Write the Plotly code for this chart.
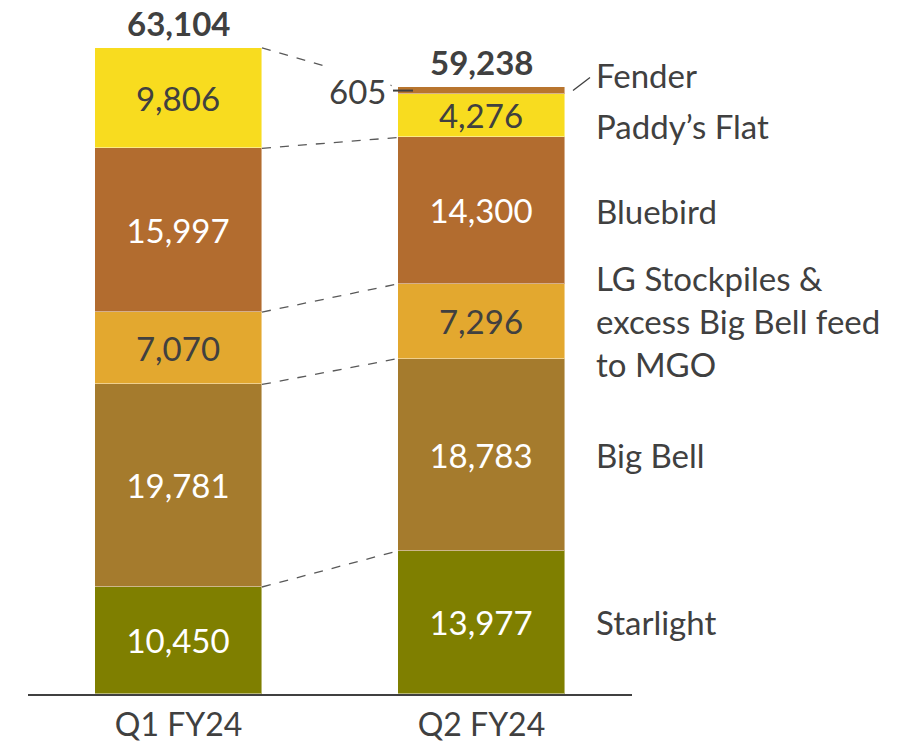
import plotly.graph_objects as go

categories = ["Q1 FY24", "Q2 FY24"]
series_names = ["Starlight", "Big Bell", "LG Stockpiles &<br>excess Big Bell feed<br>to MGO", "Bluebird", "Paddy’s Flat", "Fender"]
starlight = [10450, 13977]
big_bell = [19781, 18783]
lg_stockpiles = [7070, 7296]
bluebird = [15997, 14300]
paddys_flat = [9806, 4276]
fender = [0, 605]
totals = [63104, 59238]

series = [starlight, big_bell, lg_stockpiles, bluebird, paddys_flat, fender]
colors = ["#7F7F00", "#A57B2D", "#E3A82F", "#B26C2F", "#F8DC1F", "#B8752E"]
text_colors = ["white", "white", "#404040", "white", "#404040", "#404040"]

FONT = "Lato"
FS = 33
DARK = "#404040"

W, H = 915, 744
OFF = 0  # body margin removed via post_script
PL, PR, PT, PB = 28, 632, 8, 694
ML, MR, MT, MB = PL - OFF, W - (PR - OFF), PT - OFF, H - (PB - OFF)
XR = [-0.497, 1.497]
YR = [0, 67000]
BW = 0.551


def px2x(px):
    return XR[0] + (px - PL) / (PR - PL) * (XR[1] - XR[0])


fig = go.Figure()
xs = [0, 1]
for i, (name, vals) in enumerate(zip(series_names, series)):
    show_text = i < 5
    fig.add_trace(go.Bar(
        x=xs, y=vals, name=name, width=BW,
        marker=dict(color=colors[i], line=dict(color="rgba(255,255,255,0.45)", width=1)),
        text=[f"{v:,}" if (show_text and v > 0) else "" for v in vals],
        textposition="inside", insidetextanchor="middle", textangle=0,
        constraintext="none",
        textfont=dict(family=FONT, size=FS, color=text_colors[i]),
        hoverinfo="skip",
    ))

cum = [[0, 0]]
for vals in series:
    cum.append([cum[-1][j] + vals[j] for j in range(2)])

shapes = []
pairs = [(1, 1), (2, 2), (3, 3), (4, 4), (5, 6)]
for a, b in pairs:
    shapes.append(dict(type="line", xref="x", yref="y",
                       x0=0 + BW / 2, y0=cum[a][0], x1=1 - BW / 2, y1=cum[b][1],
                       line=dict(color="#595959", width=1.3, dash="dash"), layer="above"))

fender_mid = cum[5][1] + fender[1] / 2
shapes.append(dict(type="line", xref="x", yref="y",
                   x0=px2x(393), x1=px2x(413), y0=fender_mid, y1=fender_mid,
                   line=dict(color=DARK, width=2), layer="above"))
shapes.append(dict(type="line", xref="x", yref="y",
                   x0=px2x(573), x1=px2x(590), y0=fender_mid, y1=fender_mid + 1270,
                   line=dict(color=DARK, width=1.3), layer="above"))

annotations = []
for j in range(2):
    annotations.append(dict(x=xs[j], y=cum[6][j], xref="x", yref="y",
                            text=f"<b>{totals[j]:,}</b>", showarrow=False,
                            yanchor="bottom", yshift=3,
                            font=dict(family=FONT, size=FS, color=DARK)))
annotations.append(dict(x=px2x(391), y=fender_mid, xref="x", yref="y",
                        text=f"{fender[1]:,}", showarrow=False, xanchor="right",
                        bgcolor="white", borderpad=4,
                        font=dict(family=FONT, size=FS, color=DARK)))
label_shift = [0, 0, 0, 0, -10, 16]
for i, name in enumerate(series_names):
    mid = cum[i][1] + series[i][1] / 2
    annotations.append(dict(x=px2x(594), y=mid, xref="x", yref="y",
                            text=name, showarrow=False, xanchor="left", align="left",
                            yshift=label_shift[i],
                            font=dict(family=FONT, size=FS, color=DARK)))

fig.update_layout(
    width=W, height=H, barmode="stack", showlegend=False,
    margin=dict(l=ML, r=MR, t=MT, b=MB, autoexpand=False),
    paper_bgcolor="white", plot_bgcolor="white",
    bargap=0,
    xaxis=dict(range=XR, tickvals=xs, ticktext=categories, showgrid=False, zeroline=False,
               showline=True, linecolor=DARK, linewidth=1.5, automargin=False,
               ticks="outside", ticklen=2, tickcolor="rgba(0,0,0,0)",
               tickfont=dict(family=FONT, size=32, color=DARK)),
    yaxis=dict(range=YR, visible=False, showgrid=False, zeroline=False, automargin=False),
    shapes=shapes, annotations=annotations,
    uniformtext=dict(mode=False),
)

fig.write_html("out.html", config={"displayModeBar": False},
               post_script="document.body.style.margin='0';")
